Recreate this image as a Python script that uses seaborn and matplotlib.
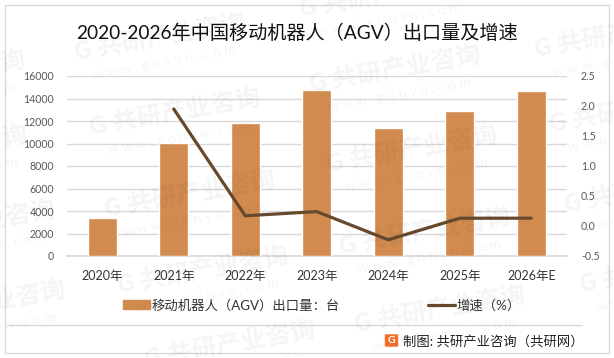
import seaborn as sns
import pandas as pd
import numpy as np
import matplotlib
matplotlib.use('Agg')
import matplotlib.pyplot as plt
from matplotlib.patches import Rectangle, FancyBboxPatch
from matplotlib.lines import Line2D

years = ["2020年", "2021年", "2022年", "2023年", "2024年", "2025年", "2026年E"]
exports = [3400, 10070, 11850, 14780, 11400, 12920, 14690]
growth = [np.nan, 1.95, 0.17, 0.24, -0.23, 0.13, 0.13]
left_ticks = [0, 2000, 4000, 6000, 8000, 10000, 12000, 14000, 16000]
right_ticks = [-0.5, 0.0, 0.5, 1.0, 1.5, 2.0, 2.5]
bar_label = "移动机器人（AGV）出口量：台"
line_label = "增速（%）"
title = "2020-2026年中国移动机器人（AGV）出口量及增速"
source = "制图: 共研产业咨询（共研网）"
mark_name = "G 共研产业咨询"
mark_url = "w w w . g o n y n . c o m"

W, H = 614, 358
BAR = "#D28B4E"
LINE = "#674A2E"
GRID = "#D9D9D9"
FONTS = ['Lato', 'Noto Sans CJK SC', 'DejaVu Sans']

sns.set_theme(style="white")
plt.rcParams['font.family'] = FONTS

df = pd.DataFrame({"year": years, "exports": exports, "growth": growth})

fig = plt.figure(figsize=(W / 100, H / 100), dpi=100)
ax = fig.add_axes([66.5 / W, 1 - 256 / H, 500.5 / W, 180 / H])

sns.barplot(data=df, x="year", y="exports", color=BAR, saturation=1, width=0.405, ax=ax, zorder=3)
ax.set_ylim(0, 16000)
ax.set_yticks(left_ticks)
ax.grid(axis="y", color=GRID, lw=1)
ax.set_axisbelow(True)
ax.set_xlabel("")
ax.set_ylabel("")
ax.tick_params(axis="y", length=0, labelsize=7.6, labelcolor="#595959", pad=9)
ax.tick_params(axis="x", length=0, labelsize=9, labelcolor="#333333", pad=10)
sns.despine(ax=ax, left=True, right=True, top=True)
ax.spines["bottom"].set_color(GRID)

ax2 = ax.twinx()
sns.lineplot(data=df, x="year", y="growth", color=LINE, lw=2.3, sort=False, ax=ax2, zorder=4)
ax2.set_ylim(-0.5, 2.5)
ax2.set_yticks(right_ticks)
ax2.set_yticklabels(["-0.5", "0.0", "0.5", "1.0", "1.5", "2.0", "2.5"])
ax2.set_xlim(-0.5, 6.5)
ax2.set_ylabel("")
ax2.set_xlabel("")
ax2.grid(False)
ax2.tick_params(axis="y", length=0, labelsize=7.6, labelcolor="#595959", pad=10)
for side in ax2.spines:
    ax2.spines[side].set_visible(False)

fig.text(297 / W, 1 - 33 / H, title, fontsize=13.8, color="#111111", ha="center", va="center")

handles = [Rectangle((0, 0), 1, 1, color=BAR), Line2D([0], [0], color=LINE, lw=2.3)]
fig.legend(handles, [bar_label, line_label], ncol=2, frameon=False, fontsize=9.6,
           loc="center", bbox_to_anchor=(322 / W, 1 - 305 / H), labelcolor="#333333",
           columnspacing=6.6, handlelength=2.0, handletextpad=0.15, handleheight=0.6)

# outer frame, footer rule and logo
fig.add_artist(Rectangle((4.5 / W, 1 - 353 / H), 604.5 / W, 348.5 / H, fill=False, ec="#D9D9D9", lw=1,
                         transform=fig.transFigure))
fig.add_artist(Line2D([8 / W, 582 / W], [1 - 324.5 / H] * 2, color="#D9D9D9", lw=1))
fig.add_artist(FancyBboxPatch((386 / W, 1 - 346 / H), 11 / W, 11 / H, boxstyle="round,pad=0.002",
                              fc="#F0702A", ec="none", transform=fig.transFigure))
fig.text(391.5 / W, 1 - 340.5 / H, "G", fontsize=7.5, fontweight="bold", color="white", ha="center", va="center")
fig.text(403 / W, 1 - 341 / H, source, fontsize=9.6, color="#222222", ha="left", va="center")

# watermark
marks = [(160, 38), (175, 113), (190, 195), (203, 271), (230, 345), (395, 70), (412, 150), (425, 232),
         (440, 310), (385, -5), (620, 35), (635, 110), (650, 190), (665, 270), (-60, 75), (-58, 150),
         (-30, 225), (-20, 305)]
for x, y in marks:
    fig.text(x / W, 1 - y / H, mark_name, family='Noto Sans CJK SC', fontsize=18, fontweight="black",
             color="black", alpha=0.045, rotation=10, ha="center", va="center", rotation_mode="anchor", zorder=10)
    fig.text((x + 4) / W, 1 - (y + 25) / H, mark_url, fontsize=10, color="black", alpha=0.045,
             rotation=10, ha="center", va="center", rotation_mode="anchor", zorder=10)

fig.savefig("out.png", dpi=100)
